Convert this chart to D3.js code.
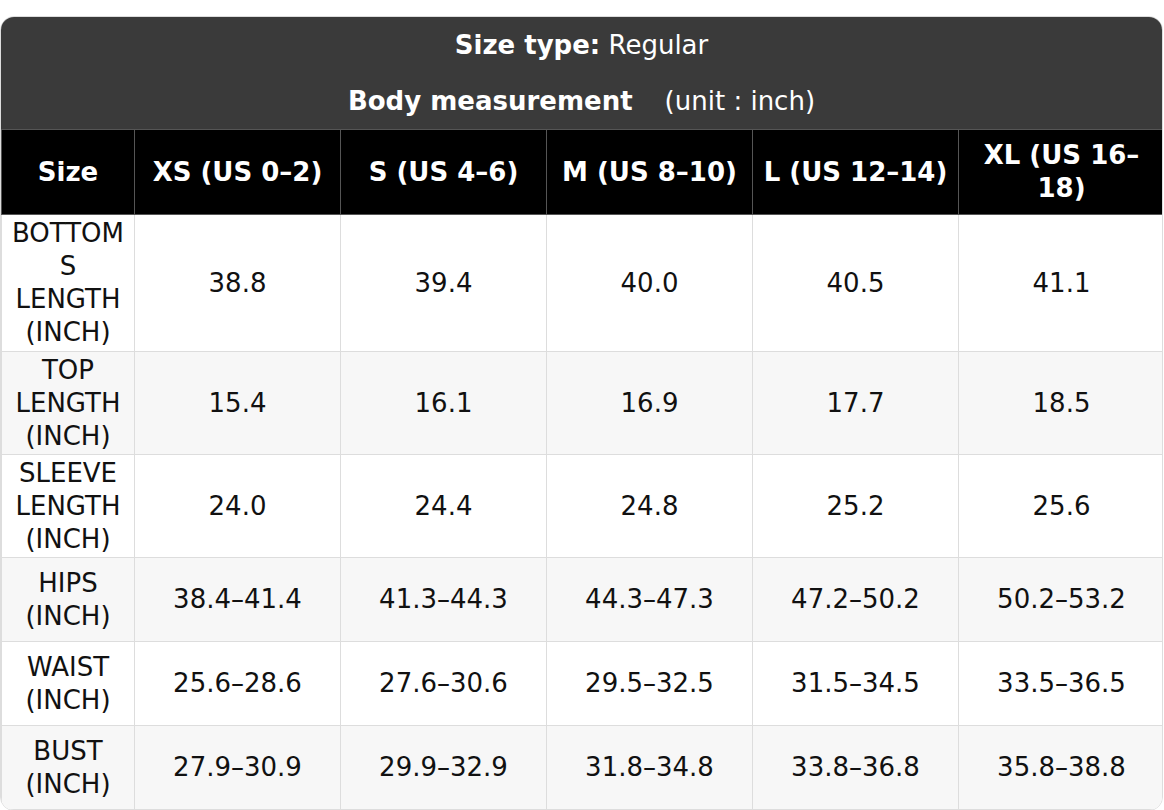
<!DOCTYPE html>
<html><head><meta charset="utf-8">
<script src="https://cdn.jsdelivr.net/npm/d3@7"></script>
<style>
body{margin:0;background:#fff;font-family:"DejaVu Sans",sans-serif;}
#wrap{position:absolute;left:0;top:16px;width:1163px;border-radius:14px;overflow:hidden;border:1px solid #ddd;box-sizing:border-box;}
.title{background:#3a3a3a;color:#fff;text-align:center;font-size:26px;}
.t1{height:56px;line-height:56px;}
.t2{height:56px;line-height:56px;}
table{border-collapse:collapse;table-layout:fixed;width:1163px;font-size:26px;}
th{background:#000;color:#fff;font-weight:bold;height:84px;padding:0 2px;border:1px solid #555;line-height:33px;overflow-wrap:anywhere;}
td{text-align:center;border:1px solid #ddd;line-height:33px;padding:0 2px;overflow-wrap:anywhere;color:#111;}
tr.odd td{background:#f7f7f7;}
</style></head><body>
<div id="wrap"></div>
<script>
const sizeType="Regular";
const unitLabel="(unit : inch)";
const sizes=["XS (US 0–2)","S (US 4–6)","M (US 8–10)","L (US 12–14)","XL (US 16–18)"];
const measures=["BOTTOMS LENGTH (INCH)","TOP LENGTH (INCH)","SLEEVE LENGTH (INCH)","HIPS (INCH)","WAIST (INCH)","BUST (INCH)"];
const bottomsLength=["38.8","39.4","40.0","40.5","41.1"];
const topLength=["15.4","16.1","16.9","17.7","18.5"];
const sleeveLength=["24.0","24.4","24.8","25.2","25.6"];
const hips=["38.4–41.4","41.3–44.3","44.3–47.3","47.2–50.2","50.2–53.2"];
const waist=["25.6–28.6","27.6–30.6","29.5–32.5","31.5–34.5","33.5–36.5"];
const bust=["27.9–30.9","29.9–32.9","31.8–34.8","33.8–36.8","35.8–38.8"];
const values=[bottomsLength,topLength,sleeveLength,hips,waist,bust];
const rowHeights=[137,103,103,84,84,84];

const wrap=d3.select("#wrap");
const t1=wrap.append("div").attr("class","title t1");
t1.append("b").text("Size type:");t1.append("span").text(" "+sizeType);
const t2=wrap.append("div").attr("class","title t2");
t2.append("b").text("Body measurement");t2.append("span").style("margin-left","32px").text(unitLabel);
const table=wrap.append("table");
const cg=table.append("colgroup");
cg.append("col").style("width","133px");
sizes.forEach(()=>cg.append("col").style("width","206px"));
table.append("tr").selectAll("th").data(["Size",...sizes]).join("th").text(d=>d);
measures.forEach((m,i)=>{
  const tr=table.append("tr").attr("class",i%2?"odd":"even").style("height",rowHeights[i]+"px");
  tr.append("td").text(m);
  tr.selectAll("td.v").data(values[i]).join("td").attr("class","v").text(d=>d);
});
</script></body></html>
